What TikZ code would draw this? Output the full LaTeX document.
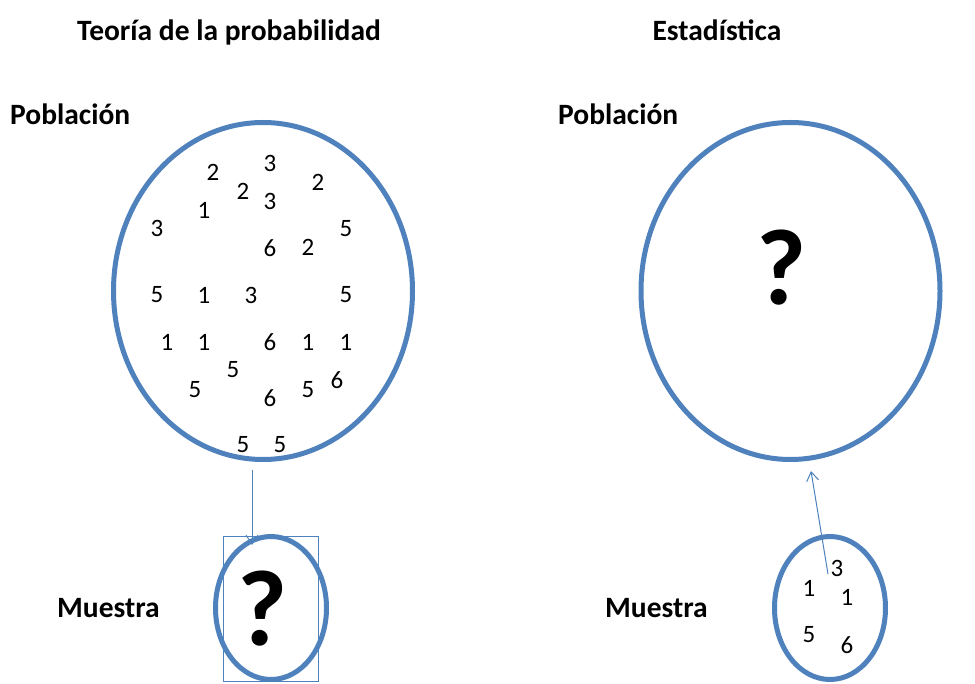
\documentclass[tikz,border=0pt]{standalone}
\usepackage{fontspec}
\setmainfont{Carlito}
\usetikzlibrary{shapes.geometric, arrows.meta}
\definecolor{ovalblue}{RGB}{79,129,189}

\begin{document}
\begin{tikzpicture}[x=1pt, y=-1pt,
	oval/.style={shape=ellipse, draw=ovalblue, line width=5pt, inner sep=0pt},
	num/.style={inner sep=0pt, font=\fontsize{25}{25}\selectfont},
	title/.style={inner sep=0pt, anchor=base, font=\fontsize{29.5}{29.5}\selectfont\bfseries},
	label/.style={inner sep=0pt, anchor=base west, font=\fontsize{29.5}{29.5}\selectfont\bfseries},
	query/.style={inner sep=0pt, font=\fontsize{108}{108}\selectfont\bfseries},
	link/.style={-{Straight Barb[length=9pt, width=12pt]}, color=ovalblue, line width=1pt}]
	
	\useasboundingbox (0, 0) rectangle (975, 684);
	
	\node[title] (tprob) at (229, 41)  {Teoría de la probabilidad};
	\node[title] (tstat) at (717, 41)  {Estadística};
	
	\node[label] (pobL) at (10, 125)   {Población};
	\node[label] (pobR) at (558, 125)  {Población};
	\node[label] (muesL) at (57, 617)  {Muestra};
	\node[label] (muesR) at (605, 617) {Muestra};
	
	\node[oval, minimum width=299pt, minimum height=337pt] (popL) at (263, 291)   {};
	\node[oval, minimum width=299pt, minimum height=337pt] (popR) at (790.5, 291) {};
	\node[oval, minimum width=111pt, minimum height=143pt] (samL) at (271, 608)   {};
	\node[oval, minimum width=111pt, minimum height=143pt] (samR) at (830, 608)   {};
	
	\node[draw=ovalblue, line width=0.9pt, minimum width=95pt, minimum height=145pt, inner sep=0pt] (box) at (270.5, 608.5) {};
	
	\node[query] (qL) at (262.5, 608.5) {?};
	\node[query] (qR) at (782, 268)     {?};
	
	% poblacion
	\foreach \d/\x/\y in {2/213/172, 3/270/163, 2/318/182, 2/243/191, 3/270/201,
		1/204/210, 3/157/228, 5/346/229, 6/270/248, 2/308/247,
		5/157/295, 1/204/295, 3/251/295, 5/346/295,
		1/167/342, 1/204/342, 6/270/342, 1/308/342, 1/346/342,
		5/233/370, 5/195/390, 6/270/398, 5/308/390, 6/337/380,
		5/243/445, 5/280/445}
		\node[num] at (\x, \y) {\d};
	
	% muestra
	\node[num] (m1) at (837, 568) {3};
	\node[num] (m2) at (809, 588) {1};
	\node[num] (m3) at (847, 597) {1};
	\node[num] (m4) at (809, 635) {5};
	\node[num] (m5) at (847, 645) {6};
	
	\coordinate (aL1) at (252, 470);
	\coordinate (aL2) at (252, 545);
	\coordinate (aR1) at (828, 574);
	\coordinate (aR2) at (811, 471);
	
	\path[link] (aL1) edge (aL2);
	\path[link] (aR1) edge (aR2);

\end{tikzpicture}
\end{document}
